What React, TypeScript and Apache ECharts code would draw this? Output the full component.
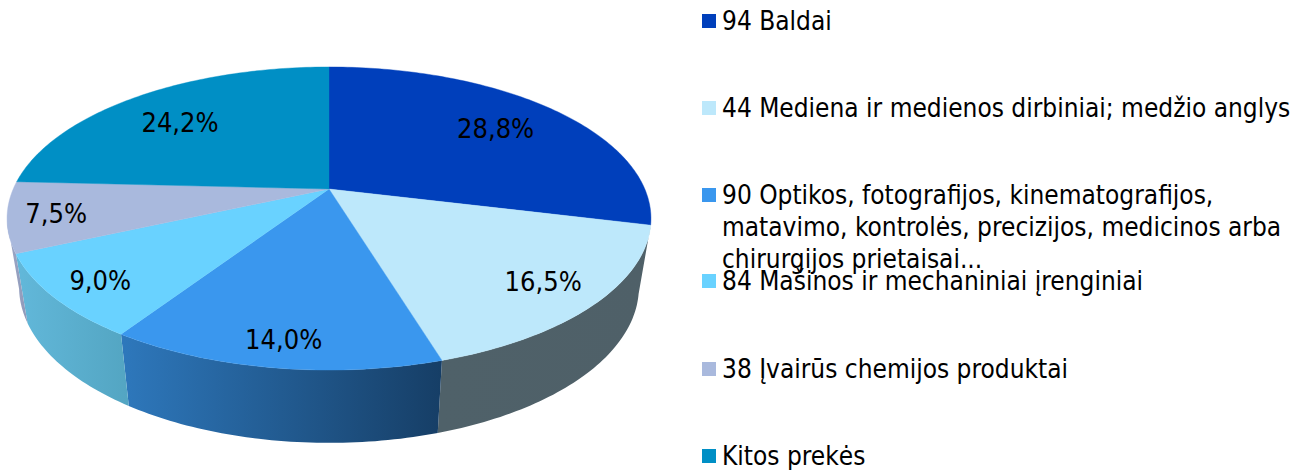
import React, { useEffect, useRef } from "react";
import * as echarts from "echarts";

const categories = [
  "94 Baldai",
  "44 Mediena ir medienos dirbiniai; medžio anglys",
  "90 Optikos, fotografijos, kinematografijos,\nmatavimo, kontrolės, precizijos, medicinos arba\nchirurgijos prietaisai...",
  "84 Mašinos ir mechaniniai įrenginiai",
  "38 Įvairūs chemijos produktai",
  "Kitos prekės",
];
const shares = [28.8, 16.5, 14.0, 9.0, 7.5, 24.2];
const shareLabels = ["28,8%", "16,5%", "14,0%", "9,0%", "7,5%", "24,2%"];

const topColors = ["#003fbb", "#bde8fb", "#3a97ee", "#69d2ff", "#a9b9dd", "#008fc5"];
const sideColors: ([string, string] | null)[] = [
  null,
  ["#4f6169", "#4f6068"],
  ["#2e78bc", "#163e66"],
  ["#62b8da", "#53a5c2"],
  ["#9da8c8", "#8e99b8"],
  null,
];
const labelRadius = [0.667, 0.92, 1.04, 0.975, 0.895, 0.634];
const labelNudgeX = [1, 3, 2, 6, 5, -11];

const FONT_LEGEND = "DejaVu Sans Condensed";
const FONT_LABEL = "DejaVu Sans Condensed";
const SIDE_VISIBLE_TO = 258;

const topFace = { cx: 329, cy: 189, a: 315.8, b: 145.8, q: 0.1947 };
const lowFace = { cx: 329, cy: 256.6, a: 304, b: 150, q: 0.1947 };
type Face = typeof topFace;

function project(f: Face, deg: number, r = 1): number[] {
  const t = (deg * Math.PI) / 180;
  const u = Math.sin(t) * r;
  const v = Math.cos(t) * r;
  const k = 1 + f.q * v;
  return [f.cx + (f.a * u) / k, f.cy - (f.b * v) / k];
}
function arc(f: Face, from: number, to: number): number[][] {
  const n = Math.max(4, Math.ceil(Math.abs(to - from)));
  const pts: number[][] = [];
  for (let i = 0; i <= n; i++) pts.push(project(f, from + ((to - from) * i) / n));
  return pts;
}
const total = shares.reduce((s, x) => s + x, 0);
function span(i: number): [number, number] {
  let before = 0;
  for (let k = 0; k < i; k++) before += shares[k];
  return [(before / total) * 360, ((before + shares[i]) / total) * 360];
}

const legendRowY = [21, 108, 195, 281, 369, 456];

export default function App() {
  const ref = useRef<HTMLDivElement>(null);
  useEffect(() => {
    document.body.style.margin = "0";
    const chart = echarts.init(ref.current!, undefined, { renderer: "svg" });
    const rows = shares.map((v, i) => ({ value: v, name: categories[i] }));
    const legendGraphics: any[] = [];
    categories.forEach((c, i) => {
      legendGraphics.push({
        type: "rect",
        shape: { x: 702, y: legendRowY[i] - 7, width: 14, height: 14 },
        style: { fill: topColors[i] },
      });
      legendGraphics.push({
        type: "text",
        x: 722,
        y: legendRowY[i] - 16,
        style: {
          text: c,
          fill: "#000",
          font: `26px "${FONT_LEGEND}"`,
          lineHeight: 32,
          textVerticalAlign: "top",
        },
      });
    });
    chart.setOption({
      animation: false,
      backgroundColor: "#fff",
      graphic: legendGraphics,
      series: [
        {
          type: "custom",
          coordinateSystem: "none",
          silent: true,
          z: 1,
          data: rows,
          renderItem: (p: any) => {
            const fill = sideColors[p.dataIndex];
            if (!fill) return { type: "group", children: [] };
            const [s, e0] = span(p.dataIndex);
            const e = Math.min(e0, SIDE_VISIBLE_TO);
            const pts = [...arc(topFace, s, e), ...arc(lowFace, e, s)];
            return {
              type: "polygon",
              shape: { points: pts },
              style: {
                fill: new echarts.graphic.LinearGradient(0, 0, 1, 0, [
                  { offset: 0, color: fill[0] },
                  { offset: 1, color: fill[1] },
                ]),
              },
            };
          },
        },
        {
          type: "custom",
          coordinateSystem: "none",
          silent: true,
          z: 2,
          data: rows,
          renderItem: (p: any) => {
            const [s, e] = span(p.dataIndex);
            const pts = [[topFace.cx, topFace.cy], ...arc(topFace, s, e)];
            return {
              type: "polygon",
              shape: { points: pts },
              style: { fill: topColors[p.dataIndex], stroke: topColors[p.dataIndex], lineWidth: 0.4 },
            };
          },
        },
        {
          type: "custom",
          coordinateSystem: "none",
          silent: true,
          z: 3,
          data: rows,
          renderItem: (p: any) => {
            const i = p.dataIndex;
            const [s, e] = span(i);
            const t = (((s + e) / 2) * Math.PI) / 180;
            const x = topFace.cx + topFace.a * Math.sin(t) * labelRadius[i] + labelNudgeX[i];
            const y = topFace.cy - topFace.b * Math.cos(t) * labelRadius[i];
            return {
              type: "text",
              x,
              y,
              style: {
                text: shareLabels[i],
                fill: "#000",
                font: `27px "${FONT_LABEL}"`,
                textAlign: "center",
                textVerticalAlign: "middle",
              },
            };
          },
        },
      ],
    });
    return () => chart.dispose();
  }, []);
  return <div ref={ref} style={{ position: "absolute", left: 0, top: 0, width: 1302, height: 470 }} />;
}
